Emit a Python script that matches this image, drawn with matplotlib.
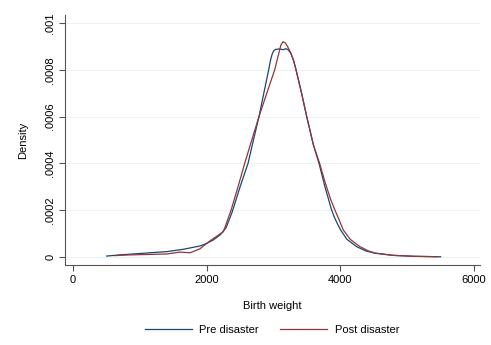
import matplotlib
matplotlib.use("Agg")
import matplotlib.pyplot as plt
from matplotlib.ticker import FixedLocator

plt.rcParams['font.family'] = ['Liberation Sans', 'DejaVu Sans']

# Pre disaster kernel density
pre_x = [504, 700, 902, 1150, 1402, 1650, 1900, 2000, 2100, 2200, 2290, 2379,
         2500, 2619, 2700, 2783, 2855, 2928, 2955, 2978, 3000, 3030, 3090,
         3140, 3190, 3220, 3260, 3300, 3337, 3420, 3497, 3596, 3681, 3770,
         3820, 3865, 3910, 3960, 4005, 4100, 4245, 4380, 4519, 4790, 5100,
         5500]
pre_y = [0.000004, 0.000009, 0.000013, 0.000018, 0.000023, 0.000033,
         0.000047, 0.000058, 0.000073, 0.000094, 0.000125, 0.00019, 0.0003,
         0.0004, 0.0005, 0.0006, 0.0007, 0.0008, 0.00084, 0.000865, 0.00088,
         0.000887, 0.000889, 0.000886, 0.00089, 0.000885, 0.00087, 0.00084,
         0.0008, 0.0007, 0.0006, 0.00048, 0.0004, 0.0003, 0.00025, 0.000205,
         0.00017, 0.00014, 0.000115, 0.000075, 0.000044, 0.000026, 0.000016,
         0.000007, 0.000003, 0.000001]

# Post disaster kernel density
post_x = [628, 850, 1152, 1402, 1601, 1751, 1900, 2000, 2100, 2250, 2365,
          2469, 2569, 2675, 2783, 2900, 3018, 3070, 3110, 3142, 3175, 3210,
          3260, 3300, 3337, 3420, 3497, 3596, 3690, 3771, 3850, 3920, 3980,
          4045, 4150, 4295, 4420, 4519, 4790, 5100, 5450]
post_y = [0.000006, 0.000009, 0.000011, 0.000013, 0.000021, 0.000018,
          0.000035, 0.000058, 0.000079, 0.000108, 0.0002, 0.0003, 0.0004,
          0.0005, 0.0006, 0.0007, 0.0008, 0.00086, 0.000905, 0.00092,
          0.000915, 0.0009, 0.00087, 0.00084, 0.0008, 0.0007, 0.0006, 0.00048,
          0.0004, 0.00032, 0.00025, 0.0002, 0.00016, 0.000115, 0.000075,
          0.000044, 0.000026, 0.000017, 0.000007, 0.000003, 0.000001]

x_ticks = [0, 2000, 4000, 6000]
x_tick_labels = ['0', '2000', '4000', '6000']
y_ticks = [0, 0.0002, 0.0004, 0.0006, 0.0008, 0.001]
y_tick_labels = ['0', '.0002', '.0004', '.0006', '.0008', '.001']
series_labels = ['Pre disaster', 'Post disaster']

W, H = 491, 345
fig = plt.figure(figsize=(W / 100, H / 100), dpi=100)
fig.patch.set_facecolor('white')
ax = fig.add_axes([65 / W, 1 - 265 / H, (480 - 65) / W, (265 - 15) / H])

grid_c = '#eaf2f3'
for yt in y_ticks:
    ax.axhline(yt, color=grid_c, lw=0.8, zorder=0)

ax.plot(pre_x, pre_y, color='#1a476f', lw=0.9, label=series_labels[0], zorder=3)
ax.plot(post_x, post_y, color='#90353b', lw=0.9, label=series_labels[1], zorder=3)

ax.set_xlim(-120, 6090)
ax.set_ylim(-0.0000342, 0.001034)
ax.xaxis.set_major_locator(FixedLocator(x_ticks))
ax.set_xticklabels(x_tick_labels)
ax.yaxis.set_major_locator(FixedLocator(y_ticks))
ax.set_yticklabels(y_tick_labels, rotation=90, va='center')

for s in ['top', 'right']:
    ax.spines[s].set_visible(False)
for s in ['left', 'bottom']:
    ax.spines[s].set_color('#555555')
    ax.spines[s].set_linewidth(0.8)

ax.tick_params(axis='both', direction='out', length=4, width=0.8,
               color='#555555', labelsize=8, labelcolor='black', pad=3)

ax.set_xlabel('Birth weight', fontsize=8, labelpad=12)
ax.set_ylabel('Density', fontsize=8, labelpad=12)

leg = fig.legend(loc='center', bbox_to_anchor=(272 / W, 1 - 330 / H), ncol=2,
                 frameon=False, fontsize=8, handlelength=4.2,
                 handletextpad=0.7, columnspacing=1.9)

fig.savefig('out.png', dpi=100, facecolor='white')
